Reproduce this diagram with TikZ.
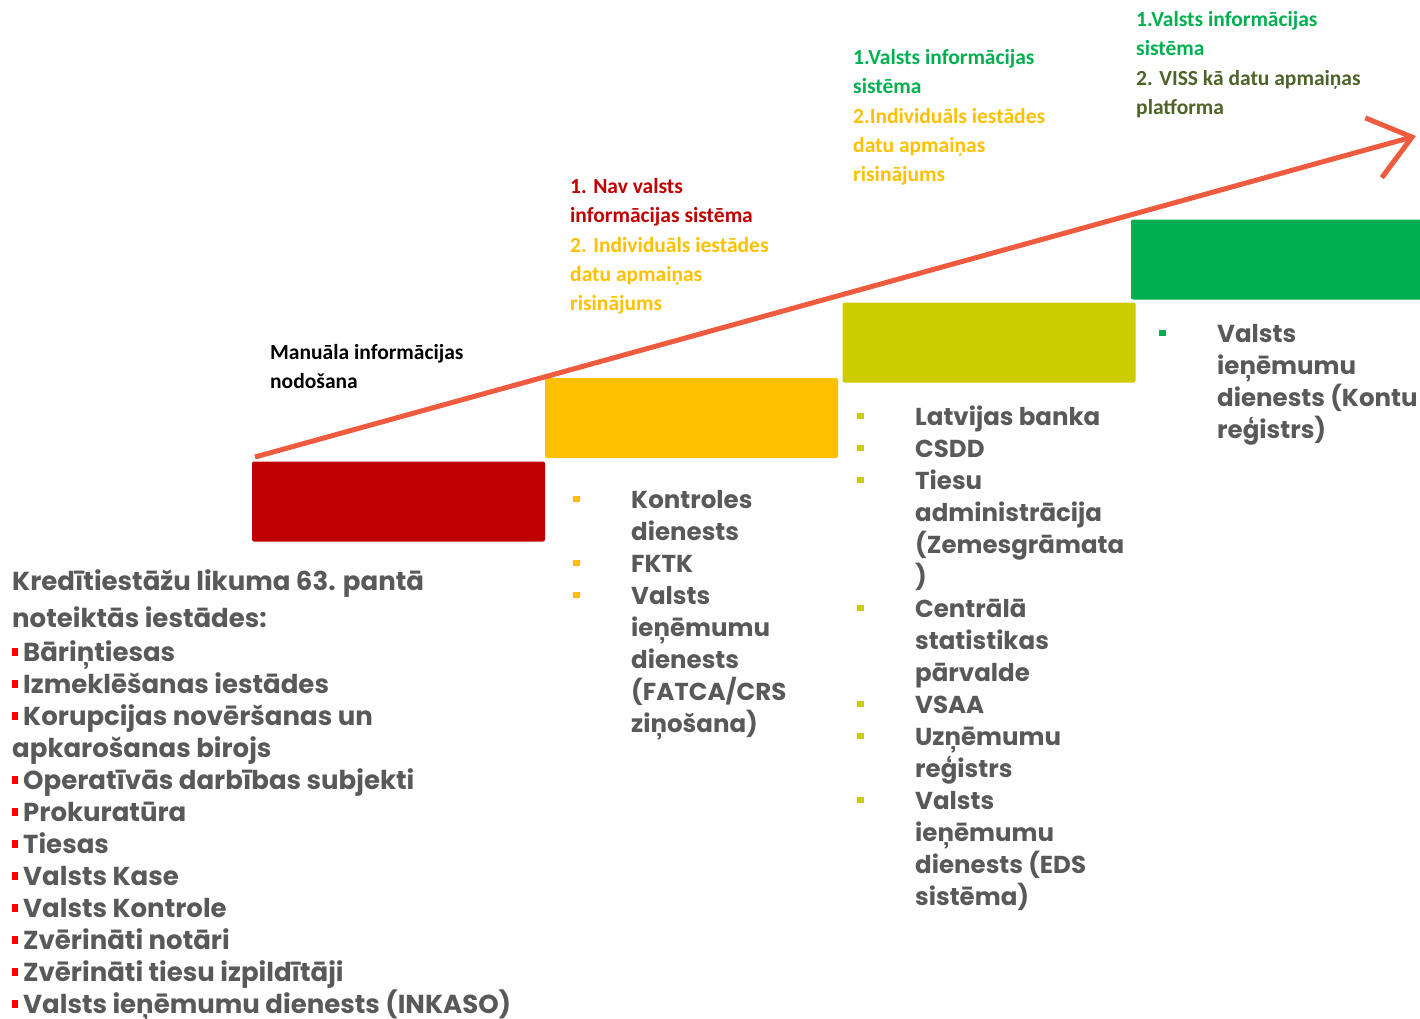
\documentclass[tikz,border=0pt]{standalone}
\usepackage{fontspec}
\setmainfont{Carlito}
\newfontfamily\listfont{Poppins}
\usetikzlibrary{arrows.meta}

\definecolor{stepred}{HTML}{C00000}
\definecolor{steporange}{HTML}{FFC000}
\definecolor{steplime}{HTML}{CCCC00}
\definecolor{stepgreen}{HTML}{00B050}
\definecolor{olivetext}{HTML}{4F6228}
\definecolor{listgray}{HTML}{595959}
\definecolor{bulletred}{HTML}{FF0000}
\definecolor{trendline}{HTML}{EF5B3E}

% first line strut: node top lies 30pt above the first baseline
\newcommand{\topline}{\rule{0pt}{30pt}}
% bullets: small squares in front of the list lines
\newcommand{\redbul}{\makebox[11pt][l]{\textcolor{bulletred}{\rule[5pt]{6pt}{8pt}}}}
\newcommand{\colbul}[1]{\makebox[58pt][l]{\textcolor{#1}{\rule[6pt]{7pt}{6.5pt}}}}
\newcommand{\nobul}{\hspace*{58pt}}

\tikzset{
	stepbox/.style={fill=#1, rounded corners=2pt, inner sep=0pt, minimum width=293pt, minimum height=80pt},
	steplabel/.style={anchor=north west, align=left, inner sep=0pt, font=\bfseries\fontsize{21.5}{29.4}\selectfont},
	itemlist/.style={anchor=north west, align=left, inner sep=0pt, text=listgray, font=\listfont\bfseries\fontsize{24.5}{32}\selectfont},
	trend/.style={draw=trendline, line width=5pt, -{Straight Barb[length=40pt, width=62pt]}}
}

\begin{document}
\begin{tikzpicture}[x=1pt, y=-1pt]

	\useasboundingbox (0,0) rectangle (1420,1018);

	\node[stepbox=stepred]    (manual)   at (398.5, 501.5) {};
	\node[stepbox=steporange] (custom)   at (691.5, 418)   {};
	\node[stepbox=steplime]   (state)    at (989, 342.5)   {};
	\node[stepbox=stepgreen]  (viss)     at (1277.5, 259.5) {};

	\coordinate (trendstart) at (255, 457);
	\coordinate (trendtip)   at (1416, 136);
	\draw[trend] (trendstart) -- (trendtip);

	\node[steplabel] (manuallbl) at (270, 329) {\topline Manuāla informācijas\\nodošana};

	\node[steplabel] (customlbl) at (570, 163) {\topline\textcolor{stepred}{1. Nav valsts}\\
		\textcolor{stepred}{informācijas sistēma}\\
		\textcolor{steporange}{2. Individuāls iestādes}\\
		\textcolor{steporange}{datu apmaiņas}\\
		\textcolor{steporange}{risinājums}};

	\node[steplabel] (statelbl) at (853, 34) {\topline\textcolor{stepgreen}{1.Valsts informācijas}\\
		\textcolor{stepgreen}{sistēma}\\
		\textcolor{steporange}{2.Individuāls iestādes}\\
		\textcolor{steporange}{datu apmaiņas}\\
		\textcolor{steporange}{risinājums}};

	\node[steplabel] (visslbl) at (1136, -4) {\topline\textcolor{stepgreen}{1.Valsts informācijas}\\
		\textcolor{stepgreen}{sistēma}\\
		\textcolor{olivetext}{2. VISS kā datu apmaiņas}\\
		\textcolor{olivetext}{platforma}};

	\node[itemlist, font=\listfont\bfseries\fontsize{26}{32}\selectfont] (manuallist) at (12, 560) {\topline Kredītiestāžu likuma 63. pantā\\[5pt]
		noteiktās iestādes:\\[2pt]
		\redbul Bāriņtiesas\\
		\redbul Izmeklēšanas iestādes\\
		\redbul Korupcijas novēršanas un\\
		apkarošanas birojs\\
		\redbul Operatīvās darbības subjekti\\
		\redbul Prokuratūra\\
		\redbul Tiesas\\
		\redbul Valsts Kase\\
		\redbul Valsts Kontrole\\
		\redbul Zvērināti notāri\\
		\redbul Zvērināti tiesu izpildītāji\\
		\redbul Valsts ieņēmumu dienests (INKASO)};

	\node[itemlist] (customlist) at (573, 478) {\topline\colbul{steporange}Kontroles\\
		\nobul dienests\\
		\colbul{steporange}FKTK\\
		\colbul{steporange}Valsts\\
		\nobul ieņēmumu\\
		\nobul dienests\\
		\nobul (FATCA/CRS\\
		\nobul ziņošana)};

	\node[itemlist] (statelist) at (857, 395) {\topline\colbul{steplime}Latvijas banka\\
		\colbul{steplime}CSDD\\
		\colbul{steplime}Tiesu\\
		\nobul administrācija\\
		\nobul (Zemesgrāmata\\
		\nobul )\\
		\colbul{steplime}Centrālā\\
		\nobul statistikas\\
		\nobul pārvalde\\
		\colbul{steplime}VSAA\\
		\colbul{steplime}Uzņēmumu\\
		\nobul reģistrs\\
		\colbul{steplime}Valsts\\
		\nobul ieņēmumu\\
		\nobul dienests (EDS\\
		\nobul sistēma)};

	\node[itemlist] (visslist) at (1159, 312) {\topline\colbul{stepgreen}Valsts\\
		\nobul ieņēmumu\\
		\nobul dienests (Kontu\\
		\nobul reģistrs)};

\end{tikzpicture}
\end{document}
